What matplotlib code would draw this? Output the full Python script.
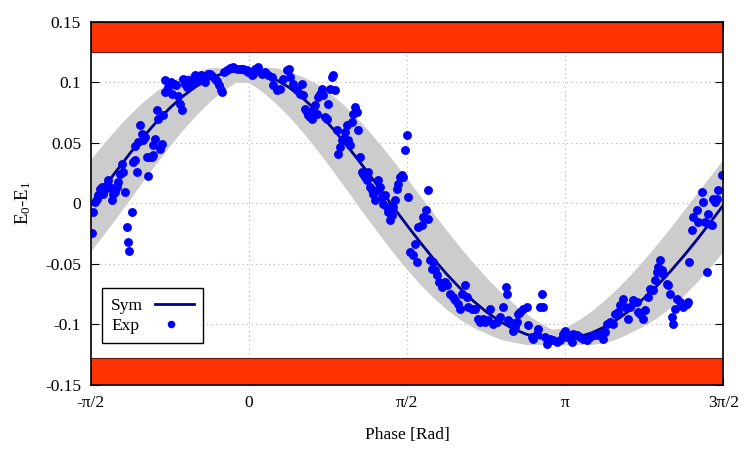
import numpy as np
import matplotlib
matplotlib.use('Agg')
import matplotlib.pyplot as plt

plt.rcParams['font.family'] = ['Liberation Serif', 'DejaVu Serif']
plt.rcParams['mathtext.fontset'] = 'custom'
plt.rcParams['mathtext.rm'] = 'Liberation Serif'
plt.rcParams['mathtext.it'] = 'Liberation Serif:italic'

# ---------------- data ----------------
x_min, x_max = -np.pi / 2, 3 * np.pi / 2
y_min, y_max = -0.15, 0.15

tick_pos = [-np.pi / 2, 0, np.pi / 2, np.pi, 3 * np.pi / 2]
tick_labels = ['-π/2', '0', 'π/2', 'π', '3π/2']
ytick_pos = [-0.15, -0.1, -0.05, 0, 0.05, 0.1, 0.15]
ytick_labels = ['-0.15', '-0.1', '-0.05', '0', '0.05', '0.1', '0.15']

# forbidden (red) regions
red_top = (0.125, 0.15)
red_bottom = (-0.15, -0.128)

# simulated curve sampled every pi/24 from -pi/2 to 3pi/2
sym_x = np.linspace(-np.pi / 2, 3 * np.pi / 2, 49)
sym_y = [-0.0015, 0.0131, 0.0275, 0.0416, 0.0550, 0.0674, 0.0787, 0.0885, 0.0966, 0.1029,
         0.1071, 0.1093, 0.1092, 0.1069, 0.1025, 0.0961, 0.0878, 0.0778, 0.0663, 0.0536,
         0.0400, 0.0258, 0.0112, -0.0036, -0.0181, -0.0322, -0.0457, -0.0583, -0.0698, -0.0803,
         -0.0894, -0.0971, -0.1033, -0.1079, -0.1110, -0.1124, -0.1122, -0.1104, -0.1070, -0.1020,
         -0.0955, -0.0875, -0.0782, -0.0677, -0.0560, -0.0434, -0.0300, -0.0159, -0.0015]
band_hi = [0.0365, 0.0498, 0.0624, 0.0739, 0.0842, 0.0930, 0.1001, 0.1053, 0.1090, 0.1120,
           0.1120, 0.1120, 0.1120, 0.1120, 0.1120, 0.1090, 0.1050, 0.0996, 0.0923, 0.0833,
           0.0727, 0.0609, 0.0481, 0.0345, 0.0204, 0.0061, -0.0082, -0.0222, -0.0358, -0.0488,
           -0.0609, -0.0720, -0.0820, -0.0907, -0.0980, -0.1040, -0.1027, -0.0964, -0.0887, -0.0798,
           -0.0696, -0.0584, -0.0462, -0.0332, -0.0197, -0.0057, 0.0085, 0.0226, 0.0365]
band_lo = [-0.0395, -0.0254, -0.0109, 0.0040, 0.0189, 0.0335, 0.0476, 0.0609, 0.0730, 0.0837,
           0.0928, 0.1001, 0.0997, 0.0923, 0.0830, 0.0721, 0.0599, 0.0464, 0.0322, 0.0174,
           0.0023, -0.0127, -0.0273, -0.0414, -0.0546, -0.0669, -0.0779, -0.0875, -0.0957, -0.1023,
           -0.1073, -0.1120, -0.1145, -0.1165, -0.1165, -0.1165, -0.1165, -0.1165, -0.1165, -0.1150,
           -0.1115, -0.1063, -0.1010, -0.0942, -0.0858, -0.0760, -0.0649, -0.0527, -0.0395]

# experimental points
exp_x = [
    -1.561, -1.545, -1.528, -1.512, -1.495, -1.479, -1.462, -1.445, -1.429, -1.412,
    -1.396, -1.379, -1.363, -1.346, -1.329, -1.313, -1.296, -1.280, -1.263, -1.247,
    -1.230, -1.214, -1.204, -1.187, -1.164, -1.147, -1.131, -1.114, -1.131, -1.098,
    -1.081, -1.065, -1.048, -1.032, -1.015, -0.999, -0.982, -0.966, -0.949, -0.949,
    -0.932, -0.916, -0.899, -0.883, -0.866, -0.850, -0.833, -0.833, -0.800, -0.774,
    -0.760, -0.740, -0.724, -0.701, -0.684, -0.668, -0.651, -0.635, -0.618, -0.602,
    -0.575, -0.552, -0.535, -0.519, -0.502, -0.476, -0.452, -0.436, -0.409, -0.386,
    -0.363, -0.337, -0.320, -0.297, -0.277, -0.271, -0.244, -0.221, -0.188, -0.155,
    -0.121, -0.088, -0.055, -0.022, 0.011, 0.044,
    -0.072, -0.039, -0.006, 0.027, 0.061, 0.094, 0.127, 0.160, 0.193, 0.226,
    0.243, 0.276, 0.309, 0.342, 0.375, 0.402, 0.408, 0.441, 0.474, 0.507,
    0.524, 0.540, 0.557, 0.574, 0.590, 0.607, 0.623, 0.640, 0.656, 0.673,
    0.690, 0.706, 0.723, 0.739, 0.756, 0.772, 0.789, 0.805, 0.822, 0.838,
    0.855, 0.872, 0.888, 0.905, 0.921, 0.938, 0.954, 0.971, 0.988, 1.004,
    1.021, 1.037, 1.054, 1.070, 1.087, 1.103, 1.120, 1.136, 1.153, 1.170,
    1.186, 1.203, 1.219, 1.236, 1.252, 1.269, 1.285, 1.302, 1.319, 1.335,
    1.352, 1.368, 1.385, 1.401, 1.418, 1.434, 1.451, 1.467, 1.484, 1.500,
    1.517, 1.534, 1.550, 1.567, 1.583, 1.649, 1.682,
    1.600, 1.633, 1.666, 1.782, 1.759, 1.732, 1.782, 1.716, 1.798, 1.831,
    1.815, 1.848, 1.865, 1.891, 1.914, 1.947, 1.964, 1.997, 2.030, 2.047,
    2.080, 2.096, 2.113, 2.146, 2.163, 2.179, 2.212, 2.245, 2.278, 2.295,
    2.328, 2.345, 2.377, 2.394, 2.427, 2.461, 2.494, 2.526, 2.553, 2.560,
    2.576, 2.593, 2.626, 2.643, 2.659, 2.676, 2.692, 2.725, 2.758, 2.775,
    2.808, 2.824, 2.858, 2.874, 2.891, 2.908, 2.924, 2.940, 2.957, 2.990,
    3.023, 3.056, 3.089, 3.122, 3.139, 3.156,
    3.205, 3.222, 3.255, 3.288, 3.321, 3.354, 3.387, 3.420, 3.454, 3.487,
    3.519, 3.536, 3.553, 3.586, 3.619, 3.636, 3.668, 3.685, 3.718, 3.735,
    3.768, 3.785, 3.817, 3.851, 3.867, 3.884, 3.917, 3.933, 3.966, 3.983,
    4.016, 4.033, 4.050, 4.066, 4.082, 4.099, 4.115, 4.149, 4.165, 4.182,
    4.199, 4.215, 4.231, 4.248, 4.281, 4.314, 4.347, 4.364, 4.374, 4.397,
    4.413, 4.447, 4.463, 4.496, 4.512, 4.529, 4.546, 4.562, 4.579, 4.596,
    4.612, 4.629, 4.645, 4.661, 4.695,
]
exp_y = [
    -0.0245, -0.0072, 0.0011, 0.0039, 0.0066, 0.0121, 0.0135, 0.0080, 0.0121, 0.0149,
    0.0190, 0.0135, 0.0025, 0.0080, 0.0094, 0.0135, 0.0176, 0.0245, 0.0328, 0.0259,
    0.0094, -0.0196, -0.0320, -0.0397, -0.0072, 0.0342, 0.0355, 0.0259, 0.0471, 0.0507,
    0.0645, 0.0576, 0.0521, 0.0548, 0.0383, 0.0223, 0.0383, 0.0383, 0.0400, 0.0479,
    0.0534, 0.0769, 0.0700, 0.0452, 0.0493, 0.0727, 0.1017, 0.0920, 0.0961, 0.1003,
    0.0906, 0.0989, 0.0975, 0.0884, 0.0824, 0.0769, 0.1030, 0.0989, 0.0961, 0.1017,
    0.0989, 0.1030, 0.1058, 0.1011, 0.1039, 0.1058, 0.1030, 0.1003, 0.1072, 0.1072,
    0.1050, 0.1030, 0.1011, 0.0975, 0.0939, 0.0920, 0.1085, 0.1105, 0.1121, 0.1127,
    0.1113, 0.1113, 0.1113, 0.1099, 0.1085, 0.1072,
    0.1113, 0.1099, 0.1085, 0.1058, 0.1113, 0.1127, 0.1072, 0.1085, 0.1058, 0.1044,
    0.0975, 0.0934, 0.0948, 0.1030, 0.1099, 0.1113, 0.1044, 0.0989, 0.0934, 0.0906,
    0.0989, 0.0893, 0.0782, 0.0755, 0.0727, 0.0714, 0.0700, 0.0769, 0.0810, 0.0741,
    0.0879, 0.0906, 0.0948, 0.0893, 0.0714, 0.0700, 0.0824, 0.0948, 0.1044, 0.1058,
    0.0934, 0.0603, 0.0411, 0.0466, 0.0521, 0.0534, 0.0590, 0.0645, 0.0521, 0.0479,
    0.0672, 0.0741, 0.0796, 0.0755, 0.0603, 0.0383, 0.0259, 0.0245, 0.0218, 0.0190,
    0.0259, 0.0135, 0.0107, 0.0080, 0.0025, 0.0107, 0.0190, 0.0135, 0.0052, -0.0003,
    0.0066, -0.0030, -0.0072, -0.0140, -0.0099, -0.0030, 0.0025, 0.0121, 0.0162, 0.0218,
    0.0231, 0.0218, 0.0438, 0.0562, 0.0052, -0.0333, -0.0196,
    -0.0402, -0.0430, -0.0485, 0.0113, -0.0058, -0.0113, -0.0127, -0.0182, -0.0471, -0.0485,
    -0.0540, -0.0554, -0.0595, -0.0650, -0.0691, -0.0650, -0.0678, -0.0747, -0.0774, -0.0802,
    -0.0829, -0.0871, -0.0747, -0.0678, -0.0774, -0.0857, -0.0871, -0.0871, -0.0953, -0.0981,
    -0.0953, -0.0981, -0.0967, -0.0871, -0.0994, -0.0981, -0.0940, -0.0857, -0.0691, -0.0747,
    -0.0967, -0.0981, -0.1050, -0.1022, -0.0981, -0.0912, -0.0898, -0.0871, -0.0857, -0.1008,
    -0.1105, -0.1118, -0.1077, -0.1036, -0.0857, -0.0747, -0.0857, -0.1105, -0.1160, -0.1118,
    -0.1132, -0.1146, -0.1132, -0.1077, -0.1050, -0.1105,
    -0.1146, -0.1077, -0.1091, -0.1105, -0.1118, -0.1132, -0.1105, -0.1091, -0.1091, -0.1077,
    -0.1118, -0.1063, -0.0994, -0.0981, -0.0994, -0.0912, -0.0898, -0.0843, -0.0788, -0.0857,
    -0.0953, -0.0857, -0.0802, -0.0815, -0.0898, -0.0912, -0.0953, -0.0884, -0.0774, -0.0705,
    -0.0719, -0.0636, -0.0567, -0.0526, -0.0471, -0.0554, -0.0581, -0.0664, -0.0678, -0.0747,
    -0.0940, -0.0994, -0.0871, -0.0788, -0.0815, -0.0857, -0.0829, -0.0815, -0.0485, -0.0223,
    -0.0113, -0.0058, -0.0154, 0.0094, 0.0011, -0.0154, -0.0567, -0.0085, -0.0168, -0.0182,
    0.0039, 0.0011, 0.0039, 0.0107, 0.0231,
]

# ---------------- plot ----------------
fig = plt.figure(figsize=(7.5, 4.5), dpi=100)
ax = fig.add_axes([0.121, 0.1444, 0.8434, 0.8074])
ax.set_axisbelow(True)

ax.axhspan(red_top[0], red_top[1], facecolor='#ff3300', edgecolor='#6a1500', lw=0.8, zorder=1)
ax.axhspan(red_bottom[0], red_bottom[1], facecolor='#ff3300', edgecolor='#6a1500', lw=0.8, zorder=1)

ax.fill_between(sym_x, band_lo, band_hi, color='#cccccc', lw=0, zorder=1)
ax.plot(sym_x, sym_y, color='#00008b', lw=2.0, label='Sym', zorder=2)
ax.plot(exp_x, exp_y, 'o', color='#0000ff', ms=6.4, mew=0, label='Exp', zorder=3)

ax.set_xlim(x_min, x_max)
ax.set_ylim(y_min, y_max)
ax.set_xticks(tick_pos)
ax.set_xticklabels(tick_labels)
ax.set_yticks(ytick_pos)
ax.set_yticklabels(ytick_labels)
ax.grid(True, linestyle=(0, (1, 3)), color='#b4b4b4', lw=0.8)
ax.tick_params(direction='in', length=6, width=0.8, top=True, right=True,
               labelsize=12.5, pad=7)
for s in ax.spines.values():
    s.set_linewidth(1.2)
    s.set_zorder(5)

ax.set_xlabel('Phase [Rad]', fontsize=12.5, labelpad=12)
ax.set_ylabel('E$_0$-E$_1$', fontsize=13.5, labelpad=9)

leg = ax.legend(loc='lower left', bbox_to_anchor=(0.0174, 0.1148), markerfirst=False,
                frameon=True, fancybox=False, edgecolor='black', framealpha=1,
                borderaxespad=0, handlelength=2.2, fontsize=12.5, borderpad=0.55,
                labelspacing=0.2, handletextpad=0.7, markerscale=0.85)
leg.get_frame().set_linewidth(1.0)
leg.set_zorder(6)
try:
    for col in leg._legend_handle_box.get_children():
        col.align = 'left'
except Exception:
    pass

fig.savefig('out.png', dpi=100)
